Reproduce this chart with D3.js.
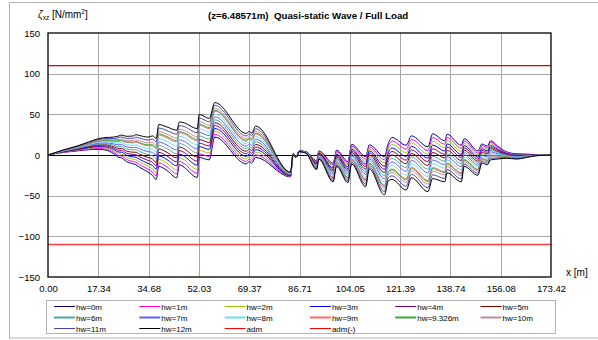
<!DOCTYPE html>
<html>
<head>
<meta charset="utf-8">
<script src="https://cdn.jsdelivr.net/npm/d3@7/dist/d3.min.js"></script>
<style>
  html, body { margin: 0; padding: 0; background: #fff; }
  svg { display: block; font-family: "Liberation Sans", Arial, sans-serif; }
</style>
</head>
<body>
<svg id="chart" width="598" height="340"></svg>
<script>
// Position along the hull [m]
const xPos = [0,3,6,10,14,17.3,20,22.5,24.5,25.3,27,29.5,30.3,31.5,34.5,36,37.3,38.2,41,44.4,45.3,46.5,51.5,52.1,55.6,57.5,68.4,69.4,70.2,71.6,83.6,84.5,85.5,86.7,89,92.6,93.4,98.3,99.5,103.4,104.7,109.5,110.8,116,117.3,118.6,123.5,125.3,131,132.6,136.8,137.6,142.5,143.5,148.2,149.6,151.5,152.6,155,158,161.6,165,168,173.42];

// Shear stress [N/mm2] for each wave height
const hw0 = [0,2,3.5,5,6.5,7,6,2,-3,-3.5,-8,-11,-12,-15,-21,-25,-30,-14,-19,-28,-12,-14,-27.5,-3,-6,22,-11,-8,-10,-3,-27,2,-2,5,4,-7,5,-10,6,-8,13,-2,12.5,-2,14,21.5,12,23.5,10,26,17.5,25.5,12,20,5,13.5,11,17.5,11,4,1.5,1,0.5,0];
const hw1 = [0,2.1,3.8,5.5,7.3,8.1,7.3,3.7,-0.8,-1.2,-5.4,-8.1,-8.9,-11.8,-17.4,-21,-25.8,-9.7,-14.5,-23.1,-7.6,-9.5,-22.5,1.4,-1.8,25.5,-7.9,-4.9,-6.9,0.2,-26.5,1.8,-2.1,4.9,3.8,-7.9,4.2,-11.9,4.3,-10.2,11,-5.1,10,-5.9,10.2,17.2,7.4,19.2,5.4,21.4,13.3,21.5,8.3,17.2,2.5,11.5,9.1,15.5,9.7,3.3,1,0.7,0.4,0];
const hw2 = [0,2.3,4.1,6,8.1,9.2,8.6,5.3,1.4,1.2,-2.8,-5.3,-5.8,-8.5,-13.8,-16.9,-21.6,-5.4,-10.1,-18.3,-3.3,-5,-17.5,5.8,2.5,29.1,-4.8,-1.8,-3.8,3.4,-26,1.7,-2.2,4.8,3.7,-8.8,3.3,-13.8,2.7,-12.3,9,-8.2,7.6,-9.8,6.3,12.9,2.8,14.9,0.8,16.8,9.1,17.6,4.5,14.3,0,9.6,7.2,13.6,8.3,2.7,0.4,0.3,0.3,0];
const hw3 = [0,2.4,4.4,6.5,8.9,10.3,9.9,7,3.6,3.5,-0.3,-2.4,-2.8,-5.3,-10.3,-12.9,-17.4,-1.1,-5.6,-13.4,1.1,-0.5,-12.5,10.3,6.8,32.6,-1.6,1.3,-0.8,6.6,-25.5,1.5,-2.3,4.8,3.5,-9.8,2.5,-15.8,1,-14.5,7,-11.3,5.1,-13.8,2.5,8.6,-1.8,10.6,-3.8,12.2,4.9,13.6,0.8,11.5,-2.5,7.6,5.3,11.6,7,2,-0.1,0,0.1,0];
const hw4 = [0,2.5,4.7,7,9.7,11.3,11.2,8.7,5.8,5.8,2.3,0.5,0.3,-2,-6.7,-8.8,-13.2,3.2,-1.2,-8.5,5.5,4,-7.5,14.7,11,36.2,1.5,4.3,2.3,9.8,-25,1.3,-2.3,4.7,3.3,-10.7,1.7,-17.7,-0.7,-16.7,5,-14.3,2.7,-17.7,-1.3,4.3,-6.3,6.3,-8.3,7.7,0.7,9.7,-3,8.7,-5,5.7,3.3,9.7,5.7,1.3,-0.7,-0.3,0,0];
const hw5 = [0,2.6,5,7.5,10.5,12.4,12.5,10.3,8,8.2,4.9,3.4,3.4,1.3,-3.1,-4.8,-9,7.5,3.3,-3.6,9.9,8.5,-2.5,19.1,15.3,39.7,4.6,7.4,5.4,13,-24.5,1.2,-2.4,4.6,3.2,-11.6,0.8,-19.6,-2.3,-18.8,3,-17.4,0.2,-21.6,-5.2,0,-10.9,2,-12.9,3.1,-3.5,5.7,-6.8,5.8,-7.5,3.7,1.4,7.7,4.3,0.7,-1.2,-0.7,-0.1,0];
const hw6 = [0,2.8,5.3,8,11.3,13.5,13.8,12,10.3,10.5,7.5,6.3,6.5,4.5,0.5,-0.8,-4.8,11.8,7.8,1.3,14.3,13,2.5,23.5,19.5,43.3,7.8,10.5,8.5,16.3,-24,1,-2.5,4.5,3,-12.5,0,-21.5,-4,-21,1,-20.5,-2.3,-25.5,-9,-4.3,-15.5,-2.3,-17.5,-1.5,-7.8,1.8,-10.5,3,-10,1.8,-0.5,5.8,3,0,-1.8,-1,-0.3,0];
const hw7 = [0,2.9,5.5,8.5,12,14.6,15,13.7,12.5,12.8,10.1,9.1,9.6,7.8,4.1,3.3,-0.5,16,12.2,6.1,18.6,17.5,7.5,27.9,23.8,46.8,10.9,13.6,11.6,19.5,-23.5,0.8,-2.6,4.4,2.8,-13.4,-0.8,-23.4,-5.7,-23.2,-1,-23.6,-4.7,-29.4,-12.8,-8.5,-20.1,-6.5,-22.1,-6.1,-12,-2.2,-14.3,0.2,-12.5,-0.2,-2.4,3.8,1.7,-0.7,-2.3,-1.3,-0.4,0];
const hw8 = [0,3,5.8,9,12.8,15.7,16.3,15.3,14.7,15.2,12.7,12,12.7,11,7.7,7.3,3.7,20.3,16.7,11,23,22,12.5,32.3,28,50.3,14,16.7,14.7,22.7,-23,0.7,-2.7,4.3,2.7,-14.3,-1.7,-25.3,-7.3,-25.3,-3,-26.7,-7.2,-33.3,-16.7,-12.8,-24.7,-10.8,-26.7,-10.7,-16.2,-6.2,-18,-2.7,-15,-2.2,-4.3,1.8,0.3,-1.3,-2.8,-1.7,-0.5,0];
const hw9 = [0,3.1,6.1,9.5,13.6,16.8,17.6,17,16.9,17.5,15.3,14.9,15.8,14.3,11.3,11.4,7.9,24.6,21.1,15.9,27.4,26.5,17.5,36.8,32.3,53.9,17.1,19.8,17.8,25.9,-22.5,0.5,-2.8,4.3,2.5,-15.3,-2.5,-27.3,-9,-27.5,-5,-29.8,-9.6,-37.3,-20.5,-17.1,-29.3,-15.1,-31.3,-15.3,-20.4,-10.1,-21.8,-5.5,-17.5,-4.1,-6.3,-0.1,-1,-2,-3.4,-2,-0.6,0];
const hw9326 = [0,3.2,6.2,9.7,13.9,17.1,18,17.5,17.6,18.3,16.1,15.8,16.8,15.3,12.4,12.7,9.2,26,22.6,17.5,28.8,28,19.1,38.2,33.6,55,18.1,20.8,18.8,26.9,-22.3,0.4,-2.8,4.2,2.4,-15.5,-2.8,-27.9,-9.5,-28.2,-5.7,-30.8,-10.4,-38.5,-21.8,-18.5,-30.7,-16.5,-32.7,-16.7,-21.7,-11.4,-23,-6.4,-18.3,-4.8,-6.9,-0.8,-1.4,-2.2,-3.6,-2.1,-0.7,0];
const hw10 = [0,3.3,6.4,10,14.4,17.8,18.9,18.7,19.1,19.8,17.8,17.8,18.8,17.5,14.8,15.4,12.1,28.9,25.6,20.8,31.8,31,22.5,41.2,36.5,57.4,20.3,22.8,20.8,29.1,-22,0.3,-2.8,4.2,2.3,-16.2,-3.3,-29.2,-10.7,-29.7,-7,-32.8,-12.1,-41.2,-24.3,-21.4,-33.8,-19.4,-35.8,-19.8,-24.6,-14.1,-25.5,-8.3,-20,-6.1,-8.2,-2.1,-2.3,-2.7,-3.9,-2.3,-0.8,0];
const hw11 = [0,3.4,6.7,10.5,15.2,18.9,20.2,20.3,21.3,22.2,20.4,20.6,21.9,20.8,18.4,19.5,16.3,33.2,30,25.6,36.1,35.5,27.5,45.6,40.8,61,23.4,25.9,23.9,32.3,-21.5,0.2,-2.9,4.1,2.2,-17.1,-4.2,-31.1,-12.3,-31.8,-9,-35.9,-14.5,-45.1,-28.2,-25.7,-38.4,-23.7,-40.4,-24.4,-28.8,-18,-29.3,-11.2,-22.5,-8,-10.1,-4,-3.7,-3.3,-4.5,-2.7,-0.9,0];
const hw12 = [0,3.5,7,11,16,20,21.5,22,23.5,24.5,23,23.5,25,24,22,23.5,20.5,37.5,34.5,30.5,40.5,40,32.5,50,45,64.5,26.5,29,27,35.5,-21,0,-3,4,2,-18,-5,-33,-14,-34,-11,-39,-17,-49,-32,-30,-43,-28,-45,-29,-33,-22,-33,-14,-25,-10,-12,-6,-5,-4,-5,-3,-1,0];

// Admissible stress limits
const admValue = 110;
const admNegValue = -110;

const seriesNames = ["hw=0m","hw=1m","hw=2m","hw=3m","hw=4m","hw=5m","hw=6m","hw=7m","hw=8m","hw=9m","hw=9.326m","hw=10m","hw=11m","hw=12m"];
const seriesValues = [hw0,hw1,hw2,hw3,hw4,hw5,hw6,hw7,hw8,hw9,hw9326,hw10,hw11,hw12];
const seriesColors = ["#000080","#ff00ff","#99cc00","#0000ff","#800080","#800000","#4fa8a8","#6060ff","#66ddff","#ff6666","#3aa83a","#cc8899","#4646b0","#000000"];
const legendWidths = [1,1,1,1,1,1,2,2,2,2,2,2,1,1];

const xTickLabels = ["0.00","17.34","34.68","52.03","69.37","86.71","104.05","121.39","138.74","156.08","173.42"];
const yTicks = [-150,-100,-50,0,50,100,150];

const svg = d3.select("#chart");

// outer chart frame
svg.append("rect").attr("x",9.5).attr("y",2.5).attr("width",600).attr("height",335.5)
  .attr("fill","none").attr("stroke","#b4b4b4").attr("stroke-width",1);

const plotL = 48, plotR = 551, plotT = 33, plotB = 277;
const x = d3.scaleLinear().domain([0,173.42]).range([plotL,plotR]);
const y = d3.scaleLinear().domain([-150,150]).range([plotB,plotT]);

// grid
const xTickVals = xTickLabels.map(Number);
svg.append("g").selectAll("line").data(xTickVals.slice(1,-1)).join("line")
  .attr("x1",d=>Math.round(x(d))+0.5).attr("x2",d=>Math.round(x(d))+0.5)
  .attr("y1",plotT).attr("y2",plotB).attr("stroke","#a8a8a8").attr("stroke-width",1);
svg.append("g").selectAll("line").data(yTicks.filter(v=>v!==0 && Math.abs(v)!==150)).join("line")
  .attr("x1",plotL).attr("x2",plotR)
  .attr("y1",d=>Math.round(y(d))+0.5).attr("y2",d=>Math.round(y(d))+0.5)
  .attr("stroke","#a8a8a8").attr("stroke-width",1);

// zero line
svg.append("line").attr("x1",plotL).attr("x2",plotR)
  .attr("y1",Math.round(y(0))+0.5).attr("y2",Math.round(y(0))+0.5)
  .attr("stroke","#000").attr("stroke-width",1.2);

// stress curves
const line = d3.line().x((d,i)=>x(xPos[i])).y(d=>y(d)).curve(d3.curveMonotoneX);
svg.append("g").selectAll("path").data(seriesValues).join("path")
  .attr("d",d=>line(d)).attr("fill","none")
  .attr("stroke",(d,i)=>seriesColors[i]).attr("stroke-width",1)
  .attr("stroke-linejoin","round");

// admissible limits
svg.append("line").attr("x1",plotL).attr("x2",plotR).attr("y1",y(admValue)).attr("y2",y(admValue))
  .attr("stroke","#e00000").attr("stroke-width",1.2);
svg.append("line").attr("x1",plotL).attr("x2",plotR).attr("y1",y(admNegValue)).attr("y2",y(admNegValue))
  .attr("stroke","#ff4040").attr("stroke-width",1.6);

// plot frame
svg.append("rect").attr("x",plotL).attr("y",plotT).attr("width",plotR-plotL).attr("height",plotB-plotT)
  .attr("fill","none").attr("stroke","#000").attr("stroke-width",1.3);

// axes
const yAxis = svg.append("g").attr("transform",`translate(${plotL},0)`)
  .call(d3.axisLeft(y).tickValues(yTicks).tickSize(0).tickPadding(8));
const xAxis = svg.append("g").attr("transform",`translate(0,${plotB})`)
  .call(d3.axisBottom(x).tickValues(xTickVals).tickFormat((d,i)=>xTickLabels[i]).tickSize(0).tickPadding(8));
[yAxis,xAxis].forEach(g=>{
  g.select(".domain").remove();
  g.selectAll("text").attr("font-size","9.5px").attr("fill","#000")
    .attr("font-family","'Liberation Sans', Arial, sans-serif");
});

// titles
const yl = svg.append("text").attr("x",38).attr("y",18).attr("font-size","10px").attr("fill","#000");
yl.append("tspan").attr("font-style","italic").text("ζ");
yl.append("tspan").attr("font-size","6.5px").attr("dy",2).text("xz");
yl.append("tspan").attr("dy",-2).text(" [N/mm");
yl.append("tspan").attr("font-size","6.5px").attr("dy",-4).text("2");
yl.append("tspan").attr("dy",4).text("]");

svg.append("text").attr("x",208).attr("y",18.5).attr("font-size","9.7px").attr("font-weight","bold")
  .attr("fill","#000").attr("xml:space","preserve").text("(z=6.48571m)  Quasi-static Wave / Full Load");

svg.append("text").attr("x",566).attr("y",276).attr("font-size","10px").attr("fill","#000").text("x [m]");

// legend
const legendItems = seriesNames.map((n,i)=>({name:n,color:seriesColors[i],w:legendWidths[i]}))
  .concat([{name:"adm",color:"#ff0000",w:1},{name:"adm(-)",color:"#ff0000",w:1}]);
svg.append("rect").attr("x",46.5).attr("y",300.5).attr("width",509).attr("height",33)
  .attr("fill","#fff").attr("stroke","#b4b4b4").attr("stroke-width",1);
const lg = svg.append("g").selectAll("g").data(legendItems).join("g")
  .attr("transform",(d,i)=>`translate(${54 + (i%6)*85.3},${306 + Math.floor(i/6)*11})`);
lg.append("line").attr("x1",0).attr("x2",21).attr("y1",0.5).attr("y2",0.5)
  .attr("stroke",d=>d.color).attr("stroke-width",d=>d.w);
lg.append("text").attr("x",22).attr("y",3.5).attr("font-size","8px").attr("fill","#000").text(d=>d.name);
</script>
</body>
</html>
